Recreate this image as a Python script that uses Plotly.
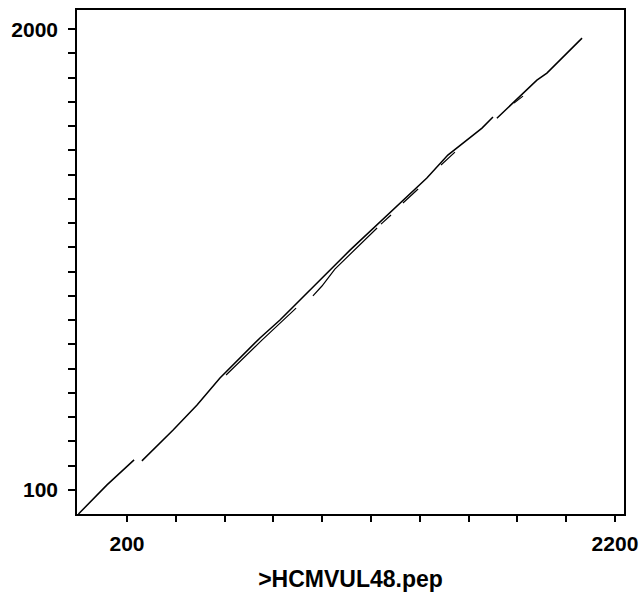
import plotly.graph_objects as go

# Main diagonal (residue positions in >HCMVUL48.pep vs. compared sequence); None = gap
diag_x = [1, 118, 229, None,
          261, 389, 487, 581, 745, 827, 1114, 1360, 1429, 1515, 1606, 1655, 1700, None,
          1716, 1802, 1880, 1921, 2065]
diag_y = [1, 121, 224, None,
          220, 347, 450, 562, 727, 801, 1089, 1324, 1386, 1481, 1555, 1592, 1638, None,
          1633, 1716, 1790, 1819, 1963]

# Secondary (parallel) alignment fragments
alt_x = [606, 753, 893, None,
         962, 999, 1052, 1225, None,
         1241, 1282, None,
         1331, 1393, None,
         1487, 1544, None,
         1786, 1823]
alt_y = [574, 718, 850, None,
         900, 941, 1011, 1180, None,
         1196, 1234, None,
         1283, 1341, None,
         1440, 1493, None,
         1695, 1724]

x_ticks = list(range(200, 2201, 200))
x_labels = ["200"] + [""] * 9 + ["2200"]
y_ticks = list(range(100, 2001, 100))
y_labels = ["100"] + [""] * 18 + ["2000"]

x_title = ">HCMVUL48.pep"

fig = go.Figure()
fig.add_trace(go.Scatter(x=diag_x, y=diag_y, mode="lines",
                         line=dict(color="black", width=1.5),
                         connectgaps=False, showlegend=False, hoverinfo="skip"))
fig.add_trace(go.Scatter(x=alt_x, y=alt_y, mode="lines",
                         line=dict(color="black", width=1.2),
                         connectgaps=False, showlegend=False, hoverinfo="skip"))

font_family = "Liberation Sans, Arial, sans-serif"

fig.update_layout(
    width=639, height=595,
    margin=dict(l=77, r=15, t=10, b=81, autoexpand=False),
    paper_bgcolor="white", plot_bgcolor="white",
    font=dict(family=font_family, color="black"),
)
fig.update_xaxes(
    range=[-5, 2237], showgrid=False, zeroline=False, automargin=False,
    showline=True, linecolor="black", linewidth=1.5, mirror=True,
    ticks="outside", ticklen=6, tickwidth=1.5, tickcolor="black",
    tickvals=x_ticks, ticktext=x_labels,
    tickfont=dict(size=21, weight="bold", family=font_family),
    ticklabelstandoff=4,
    title=dict(text=x_title, font=dict(size=23, weight="bold", family=font_family), standoff=17),
)
fig.update_yaxes(
    range=[1, 2079], showgrid=False, zeroline=False, automargin=False,
    showline=True, linecolor="black", linewidth=1.5, mirror=True,
    ticks="outside", ticklen=7, tickwidth=1.5, tickcolor="black",
    tickvals=y_ticks, ticktext=y_labels,
    tickfont=dict(size=21, weight="bold", family=font_family),
    ticklabelstandoff=6,
)

# remove the page's default 8px body margin so the figure fills the window exactly
fig.write_html("out.html", config={"displayModeBar": False},
               post_script="document.body.style.margin='0';")
